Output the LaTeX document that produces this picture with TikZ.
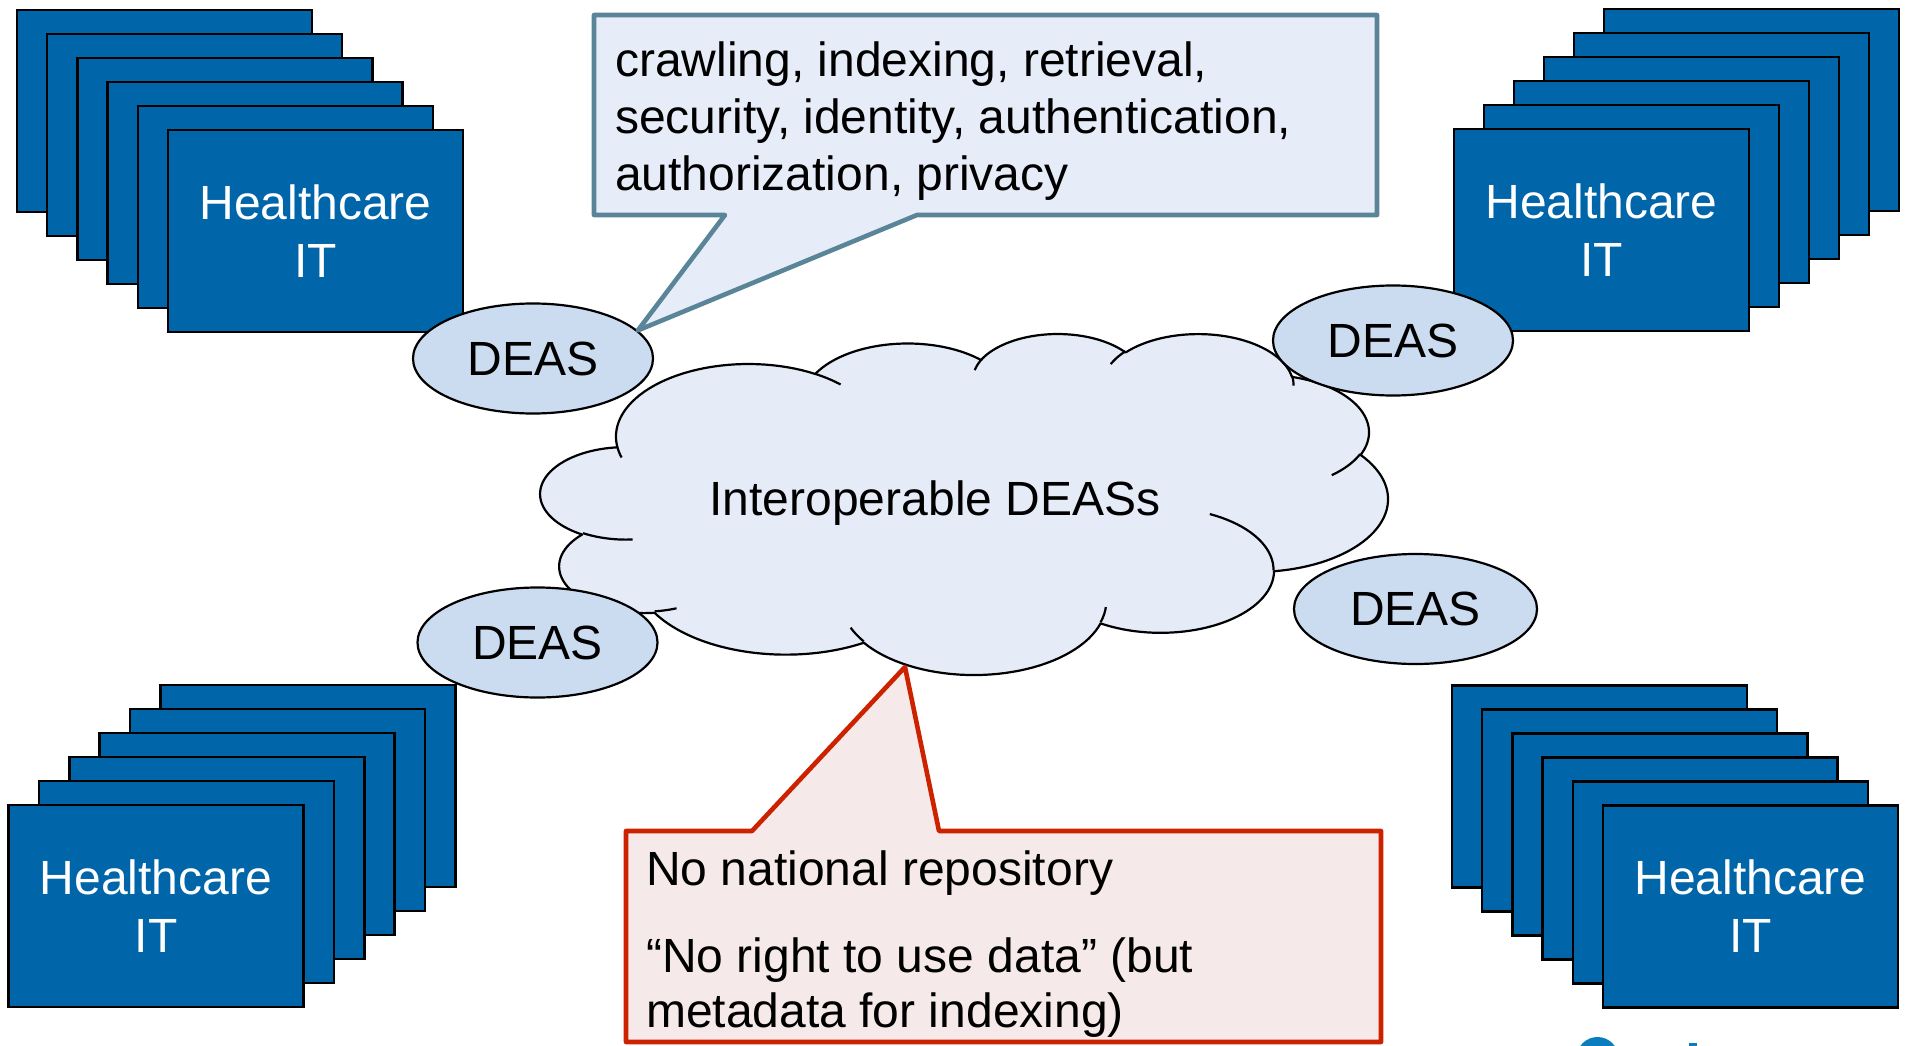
\documentclass[tikz,border=0pt]{standalone}
\usepackage{fontspec}
\setmainfont{Liberation Sans}
\usetikzlibrary{shapes.geometric}
\definecolor{cardblue}{HTML}{0065A9}
\definecolor{deasfill}{HTML}{CCDCF0}
\definecolor{cloudfill}{HTML}{E5ECF8}
\definecolor{notefill}{HTML}{E6ECF8}
\definecolor{noteedge}{HTML}{5A8498}
\definecolor{warnfill}{HTML}{F5E9E9}
\definecolor{warnedge}{HTML}{CC2200}
\definecolor{logoblue}{HTML}{0A7DBE}
\tikzset{
  big/.style={font=\fontsize{48}{58}\selectfont},
  card/.style={rectangle, draw=black, line width=2.5pt, fill=cardblue,
    minimum width=295pt, minimum height=202pt, inner sep=0pt, outer sep=0pt},
  cardtext/.style={card, big, text=white, align=center},
  deas/.style={ellipse, draw=black, line width=2.2pt, fill=deasfill,
    minimum width=240pt, minimum height=110pt, inner sep=0pt, big},
  cloudedge/.style={draw=black, line width=2.2pt, line join=round},
  notebox/.style={draw=noteedge, fill=notefill, line width=4.6pt, line join=round},
  warnbox/.style={draw=warnedge, fill=warnfill, line width=4.6pt, line join=round},
  notetext/.style={big, anchor=base west, inner sep=0pt},
}
\begin{document}
\begin{tikzpicture}[x=1pt, y=-1pt]
\clip (0,0) rectangle (1909,1046);

% ---- stacks of Healthcare IT cards ----
\foreach \k in {5,4,3,2,1}
  \node[card] (tlb\k) at ({315.5-30.2*\k},{231-24*\k}) {};
\node[cardtext] (tl) at (315.5,231) {Healthcare\\IT};

\foreach \k in {5,4,3,2,1}
  \node[card] (trb\k) at ({1601.5+30*\k},{230-24*\k}) {};
\node[cardtext] (tr) at (1601.5,230) {Healthcare\\IT};

\foreach \k in {5,4,3,2,1}
  \node[card] (blb\k) at ({156+30.4*\k},{906-24*\k}) {};
\node[cardtext] (bl) at (156,906) {Healthcare\\IT};

\foreach \k in {5,4,3,2,1}
  \node[card] (brb\k) at ({1750.5-30.2*\k},{906.5-24*\k}) {};
\node[cardtext] (br) at (1750.5,906.5) {Healthcare\\IT};

% ---- cloud: elliptical lobes in a 432 x 432 frame ----
\begin{scope}[shift={(540.7pt,-332.9pt)}, x=1.96042pt, y=-0.78912pt]
  \filldraw[cloudedge, fill=cloudfill]
    plot[domain=-187.746:-59.64, samples=40, variable=\t] ({105.913+67.53*cos(\t)},{131.314+91.90*sin(\t)})
    -- plot[domain=-152.044:-45.42, samples=40, variable=\t] ({187.153+53.33*cos(\t)},{86.093+72.67*sin(\t)})
    -- plot[domain=-153.492:-37.33, samples=40, variable=\t] ({263.650+43.65*cos(\t)},{60.871+59.45*sin(\t)})
    -- plot[domain=-139.71:-10.21, samples=40, variable=\t] ({335.410+48.57*cos(\t)},{67.457+65.95*sin(\t)})
    -- plot[domain=-74.77:23.21, samples=40, variable=\t] ({369.202+53.33*cos(\t)},{125.944+72.73*sin(\t)})
    -- plot[domain=-37.52:81.86, samples=40, variable=\t] ({364.482+67.75*cos(\t)},{210.762+92.20*sin(\t)})
    -- plot[domain=0.46:121.98, samples=40, variable=\t] ({316.227+57.85*cos(\t)},{301.403+78.67*sin(\t)})
    -- plot[domain=16.844:146.23, samples=40, variable=\t] ({220.967+67.52*cos(\t)},{341.437+92.15*sin(\t)})
    -- plot[domain=58.98:150.20, samples=40, variable=\t] ({125.054+77.20*cos(\t)},{302.304+105.43*sin(\t)})
    -- plot[domain=83.31:223.10, samples=40, variable=\t] ({52.984+43.60*cos(\t)},{295.923+59.18*sin(\t)})
    -- plot[domain=120.36:264.11, samples=40, variable=\t] ({43.114+43.45*cos(\t)},{204.193+59.45*sin(\t)})
    -- cycle;
  % inner folds between the lobes
  \draw[cloudedge]
    plot[domain=85.546:120.36, samples=15, variable=\t] ({43.556+43.45*cos(\t)},{202.500+59.45*sin(\t)})
    plot[domain=68.24:83.31, samples=10, variable=\t] ({53.114+43.60*cos(\t)},{294.028+59.18*sin(\t)})
    plot[domain=146.23:158.47, samples=10, variable=\t] ({220.910+67.52*cos(\t)},{339.680+92.15*sin(\t)})
    plot[domain=4.738:16.844, samples=10, variable=\t] ({220.981+67.52*cos(\t)},{339.898+92.15*sin(\t)})
    plot[domain=-64.03:0.46, samples=20, variable=\t] ({315.957+57.85*cos(\t)},{300.267+78.67*sin(\t)})
    plot[domain=23.21:49.63, samples=12, variable=\t] ({368.966+53.33*cos(\t)},{124.877+72.73*sin(\t)})
    plot[domain=-10.21:0.821, samples=8, variable=\t] ({335.439+48.57*cos(\t)},{65.949+65.95*sin(\t)})
    plot[domain=-156.28:-139.71, samples=10, variable=\t] ({335.247+48.57*cos(\t)},{66.049+65.95*sin(\t)})
    plot[domain=-167.726:-153.54, samples=10, variable=\t] ({264.062+43.65*cos(\t)},{59.839+59.45*sin(\t)})
    plot[domain=-59.64:-45.75, samples=10, variable=\t] ({105.864+67.53*cos(\t)},{131.214+91.90*sin(\t)})
    plot[domain=163.20:172.254, samples=8, variable=\t] ({105.918+67.53*cos(\t)},{131.328+91.90*sin(\t)});
\end{scope}
\node[big, anchor=base, inner sep=0pt] (cloudlabel) at (935,515) {Interoperable DEASs};

% ---- DEAS ellipses ----
\node[deas] (deastl) at (533,358.5) {DEAS};
\node[deas] (deastr) at (1393,340.5) {DEAS};
\node[deas] (deasbl) at (537.5,642.5) {DEAS};
\node[deas, minimum width=243pt] (deasbr) at (1415.5,609) {DEAS};

% ---- callout: services ----
\draw[notebox] (594,15) -- (1377,15) -- (1377,215) -- (917,215)
  -- (deastl.15) -- (725,215) -- (594,215) -- cycle;
\node[notetext] (n1) at (615,77) {crawling, indexing, retrieval,};
\node[notetext] (n2) at (615,134) {security, identity, authentication,};
\node[notetext] (n3) at (615,190) {authorization, privacy};

% ---- callout: data policy ----
\coordinate (cloudtip) at (905,667);
\draw[warnbox] (626,831) -- (752,831) -- (cloudtip) -- (939,831)
  -- (1381,831) -- (1381,1042) -- (626,1042) -- cycle;
\node[notetext] (w1) at (646,885) {No national repository};
\node[notetext] (w2) at (646,972) {“No right to use data” (but};
\node[notetext] (w3) at (646,1027) {metadata for indexing)};

% ---- logo fragment at the lower edge ----
\fill[logoblue] (1597.5,1058) circle[radius=21pt];
\fill[logoblue] (1689,1043) rectangle (1697,1050);
\end{tikzpicture}
\end{document}
